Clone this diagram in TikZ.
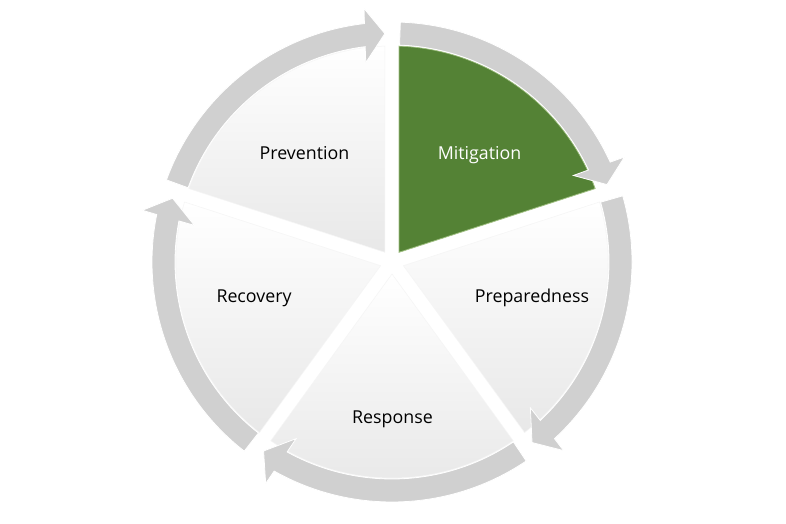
\documentclass[tikz,border=0pt]{standalone}
\usepackage{fontspec}
\setmainfont{Open Sans}
\usetikzlibrary{calc}
\newcommand\mysector[2]{%
  \path[#2] ($(C)+({#1+36}:12)$) -- ($(C)+({#1+1.87}:216)$)
    arc[start angle={#1+1.87}, end angle={#1+70.13}, radius=216] -- cycle;}
\newcommand\myarrow[1]{%
  \path[ringarrow] ($(C)+({#1+70}:240)$)
    arc[start angle={#1+70}, end angle={#1+6.6}, radius=240]
    -- ($(C)+({#1+6.3}:255)$) -- ($(C)+({#1+1.8}:228.5)$)
    -- ($(C)+({#1+7.5}:201)$) -- ($(C)+({#1+7.1}:217)$)
    arc[start angle={#1+7.1}, end angle={#1+70}, radius=217] -- cycle;}
\begin{document}
\begin{tikzpicture}[x=1pt,y=1pt,
  sectorgray/.style={top color=white, middle color={rgb,255:red,250;green,250;blue,250}, bottom color={rgb,255:red,232;green,232;blue,232}, draw=gray!8, line width=0.5pt},
  sectorgreen/.style={fill={rgb,255:red,84;green,130;blue,53}, draw={rgb,255:red,160;green,192;blue,130}, line width=0.8pt},
  ringarrow/.style={fill={rgb,255:red,208;green,208;blue,208}, draw=white, line width=0.8pt},
  lbl/.style={font=\fontsize{17.8}{20}\selectfont, text=black, anchor=base, inner sep=0pt}]
\useasboundingbox (0,0) rectangle (786,524);
\fill[white] (0,0) rectangle (786,524);
\coordinate (C) at (392,262);
% sectors
\mysector{90}{sectorgray}
\mysector{162}{sectorgray}
\mysector{234}{sectorgray}
\mysector{306}{sectorgray}
\mysector{18}{sectorgreen}
% ring arrows
\myarrow{18}
\myarrow{90}
\myarrow{162}
\myarrow{234}
\myarrow{306}
% labels
\node[lbl] (prev) at (304.5,364) {Prevention};
\node[lbl, text=white] (miti) at (479.5,364) {Mitigation};
\node[lbl] (prep) at (532,221) {Preparedness};
\node[lbl] (reco) at (254,221) {Recovery};
\node[lbl] (resp) at (392.5,100) {Response};
\end{tikzpicture}
\end{document}
